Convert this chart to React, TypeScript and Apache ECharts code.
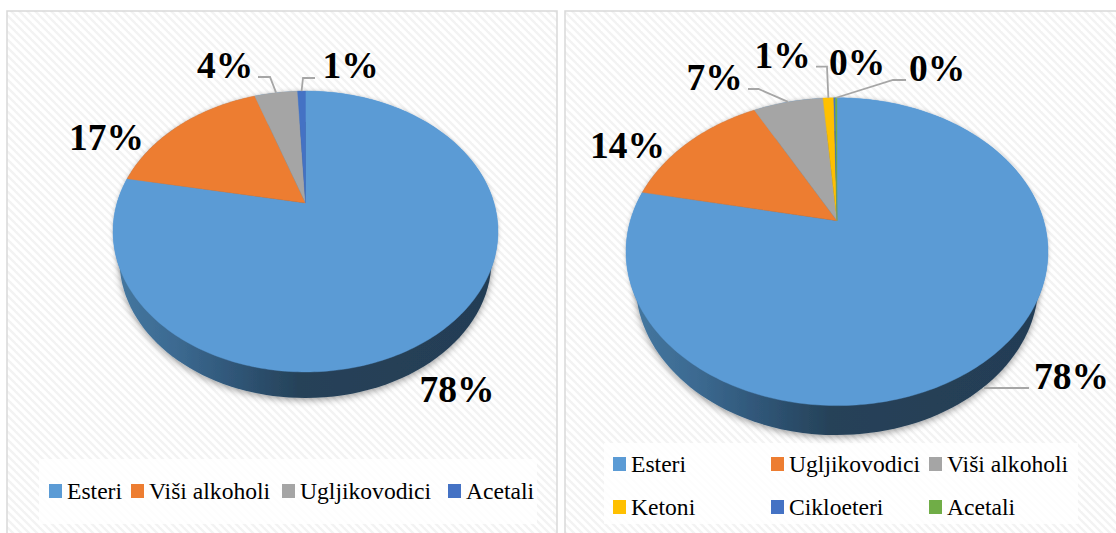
import React, { useEffect, useRef } from "react";
import * as echarts from "echarts";

// ---- data ----
const leftNames = ["Esteri", "Viši alkoholi", "Ugljikovodici", "Acetali"];
const leftValues = [78.0, 16.8, 4.4, 0.8];
const leftColors = ["#5b9bd5", "#ed7d31", "#a5a5a5", "#4472c4"];

const rightNames = ["Esteri", "Ugljikovodici", "Viši alkoholi", "Ketoni", "Cikloeteri", "Acetali"];
const rightValues = [78.2, 14.0, 6.5, 1.0, 0.15, 0.15];
const rightColors = ["#5b9bd5", "#ed7d31", "#a5a5a5", "#ffc000", "#4472c4", "#70ad47"];

// ---- layout (page coordinates) ----
const SERIF = "'Liberation Serif', 'Times New Roman', serif";

type P = [number, number];
interface PieCfg {
  names: string[];
  values: number[];
  colors: string[];
  originX: number;
  width: number;
  panel: { x: number; y: number; w: number; h: number };
  legendBox: { x: number; y: number; w: number; h: number };
  legends: any[];
  apex: P;
  R: number;
  S: number;
  k: number;
  wall: { cy: number; rx: number; ry: number };
  labels: ([number, number] | null)[];
  leaders: (P[] | null)[];
  leaderToRim: boolean[];
}

const panelTop = 11;

const leftCfg: PieCfg = {
  names: leftNames,
  values: leftValues,
  colors: leftColors,
  originX: 0,
  width: 561,
  panel: { x: 7, y: panelTop, w: 550, h: 540 },
  legendBox: { x: 39, y: 459, w: 498, h: 65 },
  legends: [
    { left: 49, top: 479, data: ["Esteri"] },
    { left: 131, top: 479, data: ["Viši alkoholi"] },
    { left: 282, top: 479, data: ["Ugljikovodici"] },
    { left: 448, top: 479, data: ["Acetali"] },
  ],
  apex: [305.5, 203],
  R: 188.5,
  S: 134.7,
  k: 0.2029,
  wall: { cy: 260, rx: 186, ry: 138 },
  labels: [[457, 389], [106.5, 137], [225, 65], [350.5, 65]],
  leaders: [
    null,
    null,
    [[258, 77], [270, 77]],
    [[315, 78], [303, 78]],
  ],
  leaderToRim: [false, false, true, true],
};

const rightCfg: PieCfg = {
  names: rightNames,
  values: rightValues,
  colors: rightColors,
  originX: 561,
  width: 555,
  panel: { x: 565, y: panelTop, w: 560, h: 540 },
  legendBox: { x: 604, y: 443, w: 474, h: 81 },
  legends: [
    { left: 613, top: 452, orient: "vertical", itemGap: 19, data: ["Esteri", "Ketoni"] },
    { left: 771, top: 452, orient: "vertical", itemGap: 19, data: ["Ugljikovodici", "Cikloeteri"] },
    { left: 929, top: 452, orient: "vertical", itemGap: 19, data: ["Viši alkoholi", "Acetali"] },
  ],
  apex: [837, 220.7],
  R: 206.7,
  S: 147.7,
  k: 0.2012,
  wall: { cy: 283, rx: 201.4, ry: 152 },
  labels: [[1071.5, 376], [627.5, 145], [714.5, 77], [782.5, 55], [857, 62], [937, 68]],
  leaders: [
    [[1029, 388], [984, 388]],
    null,
    [[748, 89], [758.6, 89]],
    [[816, 66.7], [827, 66.7]],
    null,
    [[906, 80], [893, 80]],
  ],
  leaderToRim: [false, false, true, true, false, true],
};

function makeHatch(): HTMLCanvasElement {
  const size = 8;
  const c = document.createElement("canvas");
  c.width = size;
  c.height = size;
  const g = c.getContext("2d")!;
  g.fillStyle = "#ffffff";
  g.fillRect(0, 0, size, size);
  g.strokeStyle = "#f3f3f3";
  g.lineWidth = 2.4;
  for (let o = -size; o <= size * 2; o += size) {
    g.beginPath();
    g.moveTo(o - 2, -2);
    g.lineTo(o + size + 2, size + 2);
    g.stroke();
  }
  return c;
}

function buildOption(cfg: PieCfg): any {
  const ox = cfg.originX;
  const [ax, ay] = cfg.apex;
  const total = cfg.values.reduce((a, b) => a + b, 0);
  const project = (share: number): P => {
    const t = share * Math.PI * 2;
    const u = Math.sin(t);
    const v = Math.cos(t);
    const d = 1 + cfg.k * v;
    return [ax - ox + (cfg.R * u) / d, ay - (cfg.S * v) / d];
  };
  const ellipseCx = ax - ox;
  const hatch = makeHatch();

  // the rim ellipse of the top face, used for a faint halo behind the slices
  const k2 = 1 - cfg.k * cfg.k;
  const rimRx = cfg.R / Math.sqrt(k2);
  const rimRy = cfg.S / k2;
  const rimCy = ay + (cfg.S * cfg.k) / k2;

  let cum = 0;
  const sliceSeries = cfg.values.map((value, i) => {
    const from = cum / total;
    cum += value;
    const to = cum / total;
    const color = cfg.colors[i];
    return {
      type: "custom",
      name: cfg.names[i],
      coordinateSystem: "none",
      silent: true,
      itemStyle: { color },
      data: [[value]],
      z: 3 + i,
      renderItem: (_p: any, api: any) => {
        const val = api.value(0);
        const steps = Math.max(2, Math.ceil((to - from) * 360));
        const pts: number[][] = [[ax - ox, ay]];
        for (let s = 0; s <= steps; s++) pts.push(project(from + ((to - from) * s) / steps));
        const children: any[] = [
          {
            type: "polygon",
            shape: { points: pts },
            style: { fill: color, stroke: color, lineWidth: 0.4 },
          },
        ];
        const leader = cfg.leaders[i];
        if (leader) {
          const line = leader.map(([x, y]) => [x - ox, y]);
          if (cfg.leaderToRim[i]) line.push(project((from + to) / 2));
          children.push({
            type: "polyline",
            shape: { points: line },
            style: { fill: "none", stroke: "#a6a6a6", lineWidth: 1.8 },
          });
        }
        const lab = cfg.labels[i];
        if (lab) {
          children.push({
            type: "text",
            style: {
              x: lab[0] - ox,
              y: lab[1],
              text: Math.round(val) + "%",
              font: `bold 37.5px ${SERIF}`,
              fill: "#000000",
              align: "center",
              verticalAlign: "middle",
            },
          });
        }
        return { type: "group", children };
      },
    };
  });

  const wallSeries = {
    type: "custom",
    name: "wall",
    coordinateSystem: "none",
    silent: true,
    z: 2,
    data: [[0]],
    renderItem: () => ({
      type: "group",
      children: [
        {
          type: "ellipse",
          shape: { cx: ellipseCx, cy: rimCy, rx: rimRx, ry: rimRy },
          style: { fill: "#5b9bd5", shadowBlur: 4, shadowColor: "rgba(0,0,0,0.22)" },
        },
        {
          type: "ellipse",
          shape: { cx: ellipseCx, cy: cfg.wall.cy, rx: cfg.wall.rx, ry: cfg.wall.ry },
          style: {
            fill: new echarts.graphic.LinearGradient(0, 0, 1, 0, [
              { offset: 0, color: "#44769f" },
              { offset: 0.15, color: "#3c6a91" },
              { offset: 0.3, color: "#305779" },
              { offset: 0.48, color: "#264259" },
              { offset: 1, color: "#243d55" },
            ]),
            shadowBlur: 7,
            shadowColor: "rgba(0,0,0,0.4)",
            shadowOffsetY: 2,
          },
        },
      ],
    }),
  };

  const p = cfg.panel;
  const b = cfg.legendBox;
  return {
    animation: false,
    backgroundColor: "#ffffff",
    graphic: [
      {
        type: "rect",
        silent: true,
        z: 0,
        shape: { x: p.x - ox, y: p.y, width: p.w, height: p.h },
        style: {
          fill: { image: hatch, repeat: "repeat" },
          stroke: "#d9d9d9",
          lineWidth: 1.5,
        },
      },
      {
        type: "rect",
        silent: true,
        z: 1,
        shape: { x: b.x - ox, y: b.y, width: b.w, height: b.h },
        style: { fill: "rgba(255,255,255,0.82)" },
      },
    ],
    legend: cfg.legends.map((l) => ({
      ...l,
      left: l.left - ox,
      icon: "rect",
      itemWidth: 13,
      itemHeight: 14,
      padding: 0,
      selectedMode: false,
      z: 10,
      textStyle: { fontFamily: SERIF, fontSize: 23.6, color: "#000000" },
    })),
    series: [wallSeries, ...sliceSeries],
  };
}

function Panel({ cfg }: { cfg: PieCfg }) {
  const ref = useRef<HTMLDivElement>(null);
  useEffect(() => {
    const chart = echarts.init(ref.current!, undefined, { renderer: "svg" });
    chart.setOption(buildOption(cfg));
    return () => chart.dispose();
  }, [cfg]);
  return (
    <div
      ref={ref}
      style={{ position: "absolute", left: cfg.originX, top: 0, width: cfg.width, height: 533 }}
    />
  );
}

export default function App() {
  return (
    <div style={{ position: "fixed", left: 0, top: 0, width: 1116, height: 533, overflow: "hidden", background: "#fff" }}>
      <Panel cfg={leftCfg} />
      <Panel cfg={rightCfg} />
    </div>
  );
}
